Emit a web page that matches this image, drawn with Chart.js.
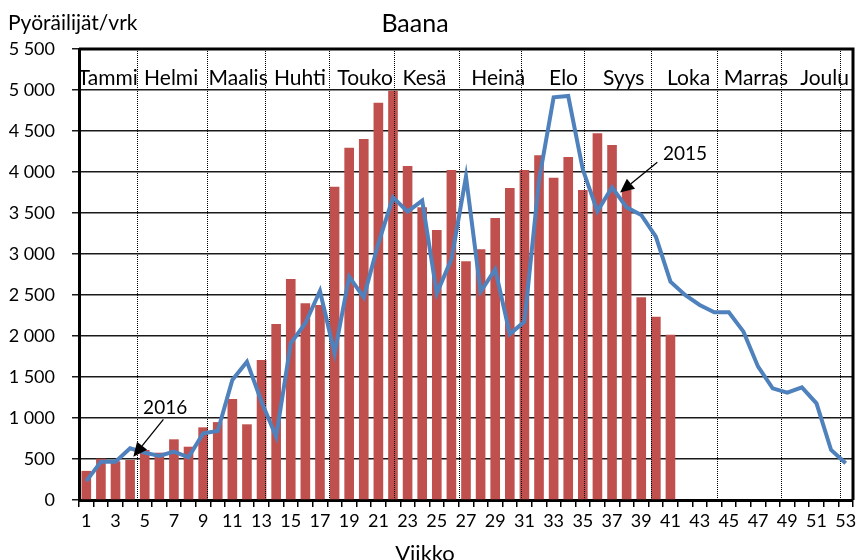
<!DOCTYPE html>
<html><head><meta charset="utf-8">
<script src="https://cdn.jsdelivr.net/npm/chart.js@4.4.1/dist/chart.umd.min.js"></script>
<style>html,body{margin:0;padding:0;background:#fff}#wrap{width:862px;height:560px}</style>
</head><body><div id="wrap"><canvas id="c" width="862" height="560"></canvas></div>
<script>
// ---- data ----
const weeks = ['1','2','3','4','5','6','7','8','9','10','11','12','13','14','15','16','17','18','19','20',
  '21','22','23','24','25','26','27','28','29','30','31','32','33','34','35','36','37','38','39','40',
  '41','42','43','44','45','46','47','48','49','50','51','52','53'];
const bikes2016 = [355,504,472,488,610,577,740,650,886,950,1232,923,1707,2146,2695,2398,2378,3821,4296,4402,
  4845,4991,4073,3569,3293,4024,2911,3057,3439,3805,4024,4204,3931,4183,3780,4472,4329,3780,2472,2236,
  2016,null,null,null,null,null,null,null,null,null,null,null,null];
const bikes2015 = [230,467,467,630,577,537,589,521,813,841,1463,1687,1199,772,1911,2155,2549,1789,2723,2472,
  3130,3691,3516,3650,2521,2935,3943,2540,2813,2024,2175,3900,4911,4927,4030,3520,3813,3569,3476,3211,
  2662,2500,2378,2289,2289,2053,1626,1362,1309,1374,1179,610,447];
const yTickLabels = ['0','500','1 000','1 500','2 000','2 500','3 000','3 500','4 000','4 500','5 000','5 500'];
const months = ['Tammi','Helmi','Maalis','Huhti','Touko','Kesä','Heinä','Elo','Syys','Loka','Marras','Joulu'];
const monthLabelWeek = [2.47,6.81,11.40,15.63,20.09,24.15,29.21,33.68,37.80,42.24,46.85,51.55];
const monthStartWeek = [4.46,9.26,13.26,17.65,22.06,26.51,30.75,35.05,39.66,44.19,48.58,52.58];
const seriesNotes = [
  {text:'2016', textWeek:6.4, textValue:1049, fromWeek:6.28, fromValue:984, toWeek:4.22, toValue:528},
  {text:'2015', textWeek:42.0, textValue:4146, fromWeek:40.1, fromValue:4118, toWeek:37.55, toValue:3750}
];
const chartTitle = 'Baana';
const yTitle = 'Pyöräilijät/vrk';
const xTitle = 'Viikko';

const FONT = 'Lato, "Open Sans", sans-serif';

const decor = {
  id: 'decor',
  afterDatasetDraw(chart, args) {
    if (args.index !== 0) return;
    const ctx = chart.ctx, x = chart.scales.x, a = chart.chartArea;
    ctx.save();
    ctx.strokeStyle = '#000';
    ctx.lineWidth = 1;
    ctx.setLineDash([1, 1]);
    monthStartWeek.forEach(w => {
      const px = Math.round(x.getPixelForValue(w - 1)) + 0.5;
      ctx.beginPath(); ctx.moveTo(px, a.top); ctx.lineTo(px, a.bottom); ctx.stroke();
    });
    ctx.restore();
  },
  afterDraw(chart) {
    const ctx = chart.ctx, x = chart.scales.x, y = chart.scales.y, a = chart.chartArea;
    ctx.save();
    // frame
    ctx.strokeStyle = '#000'; ctx.lineWidth = 3;
    ctx.beginPath();
    ctx.moveTo(a.left, a.top); ctx.lineTo(a.right, a.top); ctx.lineTo(a.right, a.bottom);
    ctx.stroke();
    ctx.fillStyle = '#000';
    // titles
    ctx.font = '25px ' + FONT; ctx.textAlign = 'center'; ctx.textBaseline = 'alphabetic';
    ctx.fillText(chartTitle, 415, 32);
    ctx.font = '21px ' + FONT; ctx.textAlign = 'left';
    ctx.fillText(yTitle, 8, 30);
    ctx.textAlign = 'center';
    ctx.font = '22px ' + FONT;
    ctx.fillText(xTitle, 425, 561);
    // month labels
    ctx.font = '21px ' + FONT;
    months.forEach((m, i) => {
      ctx.fillText(m, x.getPixelForValue(monthLabelWeek[i] - 1), 85);
    });
    // notes
    ctx.font = '19px ' + FONT;
    seriesNotes.forEach(n => {
      ctx.fillText(n.text, x.getPixelForValue(n.textWeek - 1), y.getPixelForValue(n.textValue));
      const x1 = x.getPixelForValue(n.fromWeek - 1), y1 = y.getPixelForValue(n.fromValue);
      const x2 = x.getPixelForValue(n.toWeek - 1), y2 = y.getPixelForValue(n.toValue);
      const ang = Math.atan2(y2 - y1, x2 - x1), L = 14, W = 6.5;
      const bx = x2 - L * Math.cos(ang), by = y2 - L * Math.sin(ang);
      ctx.lineWidth = 1.3;
      ctx.beginPath(); ctx.moveTo(x1, y1); ctx.lineTo(bx, by); ctx.stroke();
      ctx.beginPath();
      ctx.moveTo(x2, y2);
      ctx.lineTo(bx + W * Math.sin(ang), by - W * Math.cos(ang));
      ctx.lineTo(bx - W * Math.sin(ang), by + W * Math.cos(ang));
      ctx.closePath(); ctx.fill();
    });
    ctx.restore();
  }
};

new Chart(document.getElementById('c'), {
  data: {
    labels: weeks,
    datasets: [
      {type: 'bar', label: '2016', data: bikes2016, backgroundColor: '#C0504D', order: 2,
       barPercentage: 0.66, categoryPercentage: 1.0},
      {type: 'line', label: '2015', data: bikes2015, borderColor: '#4F81BD', borderWidth: 4,
       pointRadius: 0, tension: 0, fill: false, order: 1}
    ]
  },
  options: {
    responsive: false, devicePixelRatio: 1, animation: false,
    layout: {padding: {top: 49, right: 9, bottom: 0, left: 0}},
    plugins: {legend: {display: false}, tooltip: {enabled: false}, title: {display: false}},
    scales: {
      x: {
        type: 'category', offset: true,
        grid: {offset: true, drawOnChartArea: false, drawTicks: true, tickLength: 7, color: '#000', lineWidth: 1.5},
        border: {display: true, color: '#000', width: 3},
        ticks: {autoSkip: false, maxRotation: 0, padding: 3, color: '#000', font: {family: FONT, size: 18},
          callback: (v, i) => (i % 2 === 0 ? weeks[i] : '')},
        afterFit: s => { s.height = 60; }
      },
      y: {
        min: 0, max: 5500,
        grid: {color: '#1a1a1a', lineWidth: 1.5, tickLength: 7, drawTicks: true},
        border: {display: true, color: '#000', width: 3},
        ticks: {stepSize: 500, padding: 17, color: '#000', font: {family: FONT, size: 18},
          callback: v => yTickLabels[Math.round(v / 500)]},
        afterFit: s => { s.width = 79; }
      }
    }
  },
  plugins: [decor]
});
</script></body></html>
